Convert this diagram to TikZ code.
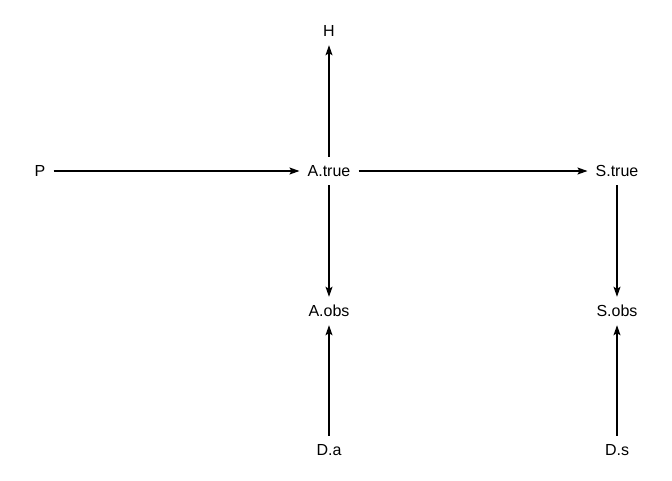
\documentclass[tikz,border=0pt]{standalone}
\usepackage{fontspec}
\setmainfont{Liberation Sans}
\usetikzlibrary{arrows.meta}
\begin{document}
\begin{tikzpicture}[x=1pt,y=-1pt,
  var/.style={font=\fontsize{16}{16}\selectfont, text height=11.5pt, text depth=0pt, inner xsep=8pt, inner ysep=8.3pt},
  edge/.style={draw=black, line width=1.1pt, -{Stealth[length=10pt,width=7pt,inset=2pt]}}]
\useasboundingbox[fill=white] (0,0) rectangle (672,480);
\node[var] (H) at (329,31) {H};
\node[var] (P) at (40,171) {P};
\node[var] (At) at (329,171) {A.true};
\node[var] (St) at (617,171) {S.true};
\node[var] (Ao) at (329,311) {A.obs};
\node[var] (So) at (617,311) {S.obs};
\node[var] (Da) at (329,450) {D.a};
\node[var] (Ds) at (617,450) {D.s};
\draw[edge] (P) -- (At);
\draw[edge] (At) -- (H);
\draw[edge] (At) -- (St);
\draw[edge] (At) -- (Ao);
\draw[edge] (St) -- (So);
\draw[edge] (Da) -- (Ao);
\draw[edge] (Ds) -- (So);
\end{tikzpicture}
\end{document}
